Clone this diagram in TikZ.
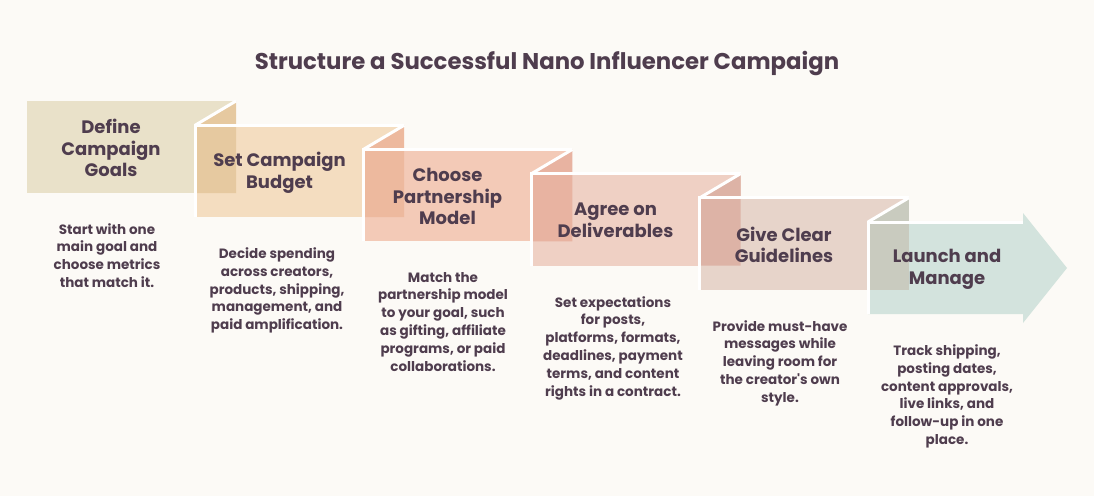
\documentclass[tikz,border=0pt]{standalone}
\usepackage{fontspec}
\setmainfont{Poppins}
\definecolor{bgc}{HTML}{FCFAF6}
\definecolor{txt}{HTML}{4F3D4E}
\definecolor{va}{HTML}{E9E1C9}
\definecolor{vb}{HTML}{F4DDC0}
\definecolor{vc}{HTML}{F3CAB7}
\definecolor{vd}{HTML}{EFD0C4}
\definecolor{ve}{HTML}{E7D4CA}
\definecolor{vf}{HTML}{D3E3DD}
\definecolor{ob}{HTML}{E6C9A0}
\definecolor{oc}{HTML}{EDB99E}
\definecolor{od}{HTML}{E8B3A1}
\definecolor{oe}{HTML}{DDB3A6}
\definecolor{of}{HTML}{C9CBBF}
\tikzset{
  lbl/.style={font=\bfseries\fontsize{18}{21.7}\selectfont, text=txt, align=center, inner sep=0pt},
  desc/.style={font=\bfseries\fontsize{13.5}{17.8}\selectfont, text=txt, align=center, inner sep=0pt, anchor=north},
  edge/.style={draw=white, line width=3pt, line join=miter},
}
\begin{document}
\begin{tikzpicture}[x=1pt,y=-1pt]
\useasboundingbox (0,0) rectangle (1094,496);
\fill[bgc] (0,0) rectangle (1094,496);
\node[font=\bfseries\fontsize{22.8}{27}\selectfont, text=txt, inner sep=0pt] (title) at (547,63) {Structure a Successful Nano Influencer Campaign};
% box 1
\fill[va] (27,101) rectangle (236,193);
% box 2
\fill[vb] (195.2,125.2) rectangle (404.2,217.2);
\fill[ob] (195.2,125.2) -- (236,101) -- (236,193) -- (195.2,193) -- cycle;
\draw[edge] (404.2,125.2) -- (195.2,125.2) -- (195.2,217.2);
\draw[edge] (195.2,125.2) -- (236,101);
% box 3
\fill[vc] (363.4,149.4) rectangle (572.4,241.4);
\fill[oc] (363.4,149.4) -- (404.2,125.2) -- (404.2,217.2) -- (363.4,217.2) -- cycle;
\draw[edge] (572.4,149.4) -- (363.4,149.4) -- (363.4,241.4);
\draw[edge] (363.4,149.4) -- (404.2,125.2);
% box 4
\fill[vd] (531.6,173.6) rectangle (740.6,265.6);
\fill[od] (531.6,173.6) -- (572.4,149.4) -- (572.4,241.4) -- (531.6,241.4) -- cycle;
\draw[edge] (740.6,173.6) -- (531.6,173.6) -- (531.6,265.6);
\draw[edge] (531.6,173.6) -- (572.4,149.4);
% box 5
\fill[ve] (699.8,197.8) rectangle (908.8,289.8);
\fill[oe] (699.8,197.8) -- (740.6,173.6) -- (740.6,265.6) -- (699.8,265.6) -- cycle;
\draw[edge] (908.8,197.8) -- (699.8,197.8) -- (699.8,289.8);
\draw[edge] (699.8,197.8) -- (740.6,173.6);
% box 6 (arrow)
\fill[vf] (868,222) -- (1023,222) -- (1023,213) -- (1067,268) -- (1023,323) -- (1023,314) -- (868,314) -- cycle;
\fill[of] (868,222) -- (908.8,197.8) -- (908.8,289.8) -- (868,289.8) -- cycle;
\draw[edge] (1023,222) -- (868,222) -- (868,314);
\draw[edge] (868,222) -- (908.8,197.8);
% labels
\node[lbl] (l1) at (111,148) {Define\\Campaign\\Goals};
\node[lbl] (l2) at (279.5,173) {Set Campaign\\Budget};
\node[lbl] (l3) at (447.5,196.5) {Choose\\Partnership\\Model};
\node[lbl] (l4) at (615.5,220.5) {Agree on\\Deliverables};
\node[lbl] (l5) at (784,245) {Give Clear\\Guidelines};
\node[lbl] (l6) at (947,269) {Launch and\\Manage};
% descriptions
\node[desc] (d1) at (107,223) {Start with one\\main goal and\\choose metrics\\that match it.};
\node[desc] (d2) at (277,247.5) {Decide spending\\across creators,\\products, shipping,\\management, and\\paid amplification.};
\node[desc] (d3) at (443,272) {Match the\\partnership model\\to your goal, such\\as gifting, affiliate\\programs, or paid\\collaborations.};
\node[desc] (d4) at (613,296) {Set expectations\\for posts,\\platforms, formats,\\deadlines, payment\\terms, and content\\rights in a contract.};
\node[desc] (d5) at (780,320) {Provide must-have\\messages while\\leaving room for\\the creator\textquotesingle s own\\style.};
\node[desc] (d6) at (947,344.5) {Track shipping,\\posting dates,\\content approvals,\\live links, and\\follow-up in one\\place.};
\end{tikzpicture}
\end{document}
